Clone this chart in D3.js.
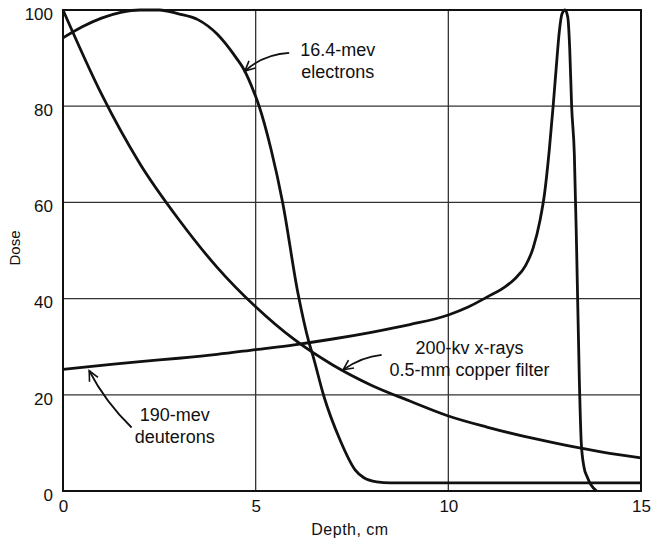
<!DOCTYPE html>
<html><head><meta charset="utf-8">
<script src="https://cdn.jsdelivr.net/npm/d3@7"></script>
<style>body{margin:0;background:#fff}svg{display:block}</style>
</head><body>
<script>
// ---- data ----
const xTicks = [0, 5, 10, 15];
const yTicks = [0, 20, 40, 60, 80, 100];

const xrayDepth = [0,1,2,3,4,5,6,7,8,9,10,11,12,13,14,15];
const xrayDose  = [100,82.5,68,56.5,46.5,38.3,31.5,26.2,22,18.7,15.6,13.3,11.3,9.6,8.1,6.9];

const electronDepth = [0,0.5,1,1.5,2,2.5,3,3.5,4,4.5,4.67,5,5.09,5.4,5.7,6.1,6.38,6.48,6.77,7.19,7.58,7.8,8.14,8.5,9,10,11,12,13,14,15];
const electronDose  = [94.2,96.5,98.3,99.5,100,100,99.2,98,95,90,88,82,80,71,60,41,31,28.3,19.7,10.6,4.4,2.8,1.9,1.7,1.7,1.7,1.7,1.7,1.7,1.7,1.7];

const deutDepth = [0,1,2,3,4,5,6,7,8,9,10,10.5,11,11.5,11.75,12.0,12.2,12.38,12.5,12.62,12.72,12.8,12.88,12.95,13.03,13.1,13.15,13.2,13.27,13.33,13.4,13.45,13.52,13.6,13.7,13.85];
const deutDose  = [25.3,26.1,26.9,27.6,28.4,29.4,30.4,31.6,33.0,34.6,36.6,38.2,40.3,42.6,44.3,46.8,50.5,56.3,62,70.9,80,88,95.5,99.2,100,98.5,92,80,70,50,23,10,5,3,1.3,0];

const labels = [
  {lines:["16.4-mev","electrons"], at:[7.13, 90.5]},
  {lines:["200-kv x-rays","0.5-mm copper filter"], at:[10.55, 28.5]},
  {lines:["190-mev","deuterons"], at:[2.9, 14.5]}
];
// arrows: start, control, tip (data coords)
const arrows = [
  {from:[5.87,91.1], ctrl:[5.2,90.8], to:[4.72,87.3]},
  {from:[8.27,28.3], ctrl:[7.75,27.9], to:[7.27,25.2]},
  {from:[1.78,13.2], ctrl:[1.1,18.5], to:[0.68,25.0]}
];

// ---- chart ----
const W = 651, H = 540;
const svg = d3.select("body").append("svg").attr("width", W).attr("height", H);
const x = d3.scaleLinear().domain([0, 15]).range([63, 641]);
const y = d3.scaleLinear().domain([0, 100]).range([491, 10]);
const font = "'Liberation Sans', Arial, sans-serif";

// grid
svg.append("g").selectAll("line").data(yTicks.filter(d => d > 0 && d < 100)).join("line")
  .attr("x1", x(0)).attr("x2", x(15)).attr("y1", d => y(d)).attr("y2", d => y(d))
  .attr("stroke", "#333").attr("stroke-width", 1.3);
svg.append("g").selectAll("line").data(xTicks.filter(d => d > 0 && d < 15)).join("line")
  .attr("y1", y(0)).attr("y2", y(100)).attr("x1", d => x(d)).attr("x2", d => x(d))
  .attr("stroke", "#333").attr("stroke-width", 1.3);

// frame
svg.append("rect").attr("x", x(0)).attr("y", y(100))
  .attr("width", x(15) - x(0)).attr("height", y(0) - y(100))
  .attr("fill", "none").attr("stroke", "#111").attr("stroke-width", 2);

// axes (labels only)
const yAxis = d3.axisLeft(y).tickValues(yTicks).tickSize(0).tickPadding(10);
svg.append("g").attr("transform", `translate(${x(0)},0)`).call(yAxis)
  .call(g => g.select(".domain").remove())
  .selectAll("text").attr("font-family", font).attr("font-size", 17).attr("fill", "#111").attr("dy", "0.55em");
const xAxis = d3.axisBottom(x).tickValues(xTicks).tickSize(0).tickPadding(9);
svg.append("g").attr("transform", `translate(0,${y(0)})`).call(xAxis)
  .call(g => g.select(".domain").remove())
  .selectAll("text").attr("font-family", font).attr("font-size", 17).attr("fill", "#111");

svg.append("text").attr("x", (x(0) + x(15)) / 2 - 2).attr("y", 535)
  .attr("text-anchor", "middle").attr("font-family", font).attr("font-size", 16)
  .attr("letter-spacing", 0.5).attr("fill", "#111").text("Depth, cm");
svg.append("text").attr("transform", "translate(20,248) rotate(-90)")
  .attr("text-anchor", "middle").attr("font-family", font).attr("font-size", 15)
  .attr("fill", "#111").text("Dose");

// curves
const line = d3.line().x(d => x(d[0])).y(d => y(d[1])).curve(d3.curveMonotoneX);
const series = [
  d3.zip(xrayDepth, xrayDose),
  d3.zip(electronDepth, electronDose),
  d3.zip(deutDepth, deutDose)
];
svg.append("g").selectAll("path").data(series).join("path")
  .attr("d", line).attr("fill", "none").attr("stroke", "#111")
  .attr("stroke-width", 2.8).attr("stroke-linejoin", "round");

// labels
labels.forEach(l => {
  const t = svg.append("text").attr("font-family", font).attr("font-size", 18)
    .attr("fill", "#111").attr("text-anchor", "middle");
  l.lines.forEach((s, i) => {
    t.append("tspan").attr("x", x(l.at[0])).attr("y", y(l.at[1]) + i * 22).text(s);
  });
});

// arrows
arrows.forEach(a => {
  const p0 = [x(a.from[0]), y(a.from[1])], c = [x(a.ctrl[0]), y(a.ctrl[1])], p1 = [x(a.to[0]), y(a.to[1])];
  svg.append("path").attr("d", `M${p0}Q${c} ${p1}`).attr("fill", "none")
    .attr("stroke", "#111").attr("stroke-width", 1.8);
  const ang = Math.atan2(p1[1] - c[1], p1[0] - c[0]);
  const L = 11, s = 0.45;
  const b1 = [p1[0] - L * Math.cos(ang - s), p1[1] - L * Math.sin(ang - s)];
  const b2 = [p1[0] - L * Math.cos(ang + s), p1[1] - L * Math.sin(ang + s)];
  svg.append("path").attr("d", `M${b1}L${p1}L${b2}`).attr("fill", "none")
    .attr("stroke", "#111").attr("stroke-width", 1.6);
});
</script>
</body></html>
